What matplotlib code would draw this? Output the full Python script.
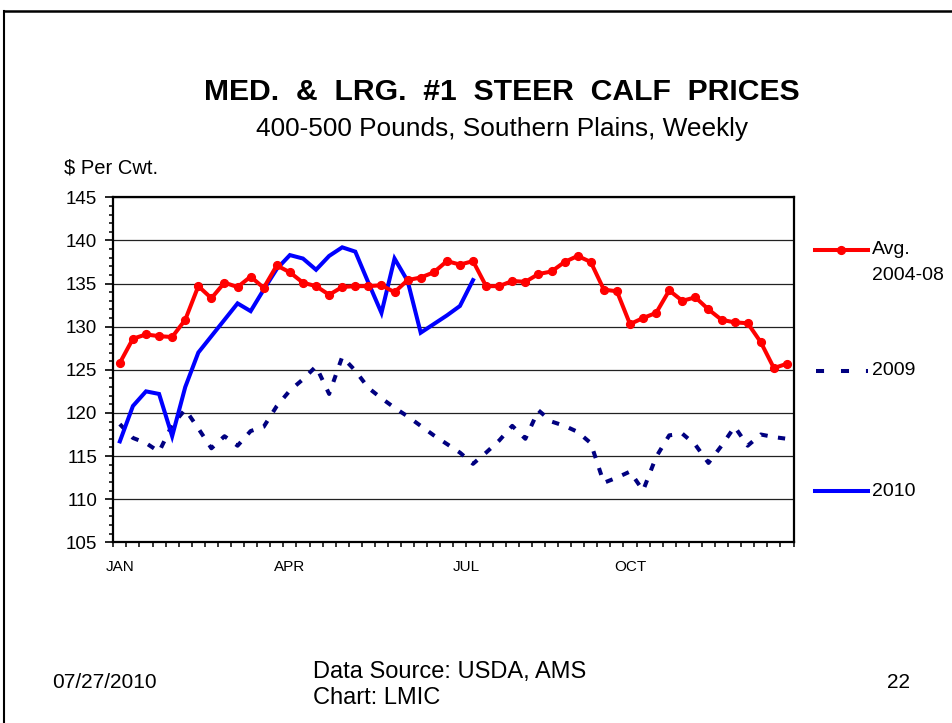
import numpy as np
import matplotlib
matplotlib.use("Agg")
import matplotlib.pyplot as plt
from matplotlib.lines import Line2D
from matplotlib.ticker import MultipleLocator

plt.rcParams["font.family"] = ["Liberation Sans", "DejaVu Sans"]

# weekly prices, $ per cwt
avg_0408 = [125.8, 128.6, 129.1, 128.9, 128.8, 130.8, 134.7, 133.3, 135.1, 134.6,
            135.8, 134.5, 137.1, 136.3, 135.1, 134.7, 133.7, 134.6, 134.7, 134.7,
            134.8, 134.0, 135.4, 135.7, 136.3, 137.6, 137.2, 137.6, 134.7, 134.7,
            135.3, 135.2, 136.1, 136.4, 137.5, 138.2, 137.5, 134.3, 134.1, 130.3,
            131.0, 131.6, 134.2, 133.0, 133.4, 132.0, 130.8, 130.5, 130.4, 128.2,
            125.2, 125.7]
y2009 = [118.7, 117.1, 116.5, 115.5, 118.6, 120.4, 118.2, 115.9, 117.3, 116.2,
         117.9, 118.4, 120.8, 122.6, 123.9, 125.4, 122.2, 126.5, 124.9, 122.9,
         121.7, 120.6, 119.6, 118.5, 117.4, 116.4, 115.4, 114.1, 115.4, 116.8,
         118.5, 117.0, 120.3, 119.0, 118.5, 117.8, 116.5, 111.9, 112.5, 113.2,
         111.0, 114.9, 117.4, 117.6, 116.3, 114.2, 116.2, 118.4, 116.2, 117.5,
         117.2, 117.0]
y2010 = [116.7, 120.8, 122.5, 122.2, 117.3, 123.0, 127.0, 128.9, 130.8, 132.7,
         131.8, 134.3, 136.7, 138.3, 137.9, 136.6, 138.2, 139.2, 138.7, 135.1,
         131.6, 137.9, 135.3, 129.3, 130.3, 131.3, 132.4, 135.4]

month_labels = ["JAN", "APR", "JUL", "OCT"]
month_pos = [0.5, 13.5, 26.95, 39.5]

W, H = 953, 723
fig = plt.figure(figsize=(W / 100, H / 100), dpi=100)
ax = fig.add_axes([113.3 / W, 1 - 542.3 / H, 680.2 / W, 345.0 / H])

x_avg = np.arange(len(avg_0408)) + 0.5
x09 = np.arange(len(y2009)) + 0.5
x10 = np.arange(len(y2010)) + 0.5

ax.plot(x09, y2009, color="#000080", lw=2.9, linestyle=(0, (1.8, 2.6)),
        dash_capstyle="butt", zorder=3)
ax.plot(x10, y2010, color="#0000FF", lw=2.9, zorder=4, solid_joinstyle="miter")
ax.plot(x_avg, avg_0408, color="#FF0000", lw=2.9, marker="o", markersize=5.6,
        zorder=5)

ax.set_xlim(0, 52)
ax.set_ylim(105, 145)
ax.yaxis.set_major_locator(MultipleLocator(5))
ax.yaxis.set_minor_locator(MultipleLocator(1))
ax.grid(axis="y", which="major", color="#222222", lw=0.9)
ax.set_axisbelow(True)

ax.set_xticks(np.arange(0, 53))
ax.set_xticklabels([])
ax.set_xticks(month_pos, month_labels, minor=True)
ax.tick_params(axis="x", which="major", direction="out", length=3.5, width=1.1)
ax.tick_params(axis="x", which="minor", length=0, labelsize=11, pad=13)
ax.tick_params(axis="y", which="major", direction="out", length=5.5, width=1.2,
               labelsize=13.5, pad=6)
ax.tick_params(axis="y", which="minor", direction="out", length=3, width=1.1)

for s in ax.spines.values():
    s.set_linewidth(1.6)
    s.set_color("black")

def fx(px):
    return px / W

def fy(py):
    return 1 - py / H

# titles
fig.text(fx(502), fy(92), "MED.  &  LRG.  #1  STEER  CALF  PRICES", ha="center",
         va="center", fontsize=21.7, fontweight="bold")
fig.text(fx(502), fy(129), "400-500 Pounds, Southern Plains, Weekly", ha="center",
         va="center", fontsize=18.9)
fig.text(fx(64), fy(168), "$ Per Cwt.", ha="left", va="center", fontsize=14.5)

# legend
fig.add_artist(Line2D([fx(815), fx(868)], [fy(250), fy(250)], color="#FF0000", lw=2.9))
fig.add_artist(Line2D([fx(841.5)], [fy(250)], color="#FF0000", marker="o",
                      markersize=5.6))
fig.text(fx(872), fy(250), "Avg.", ha="left", va="center", fontsize=14)
fig.text(fx(872), fy(276), "2004-08", ha="left", va="center", fontsize=14)
fig.add_artist(Line2D([fx(816), fx(868)], [fy(371), fy(371)], color="#000080", lw=2.9,
                      linestyle=(0, (2.0, 4.2)), dash_capstyle="butt"))
fig.text(fx(872), fy(371), "2009", ha="left", va="center", fontsize=14)
fig.add_artist(Line2D([fx(815), fx(868)], [fy(491), fy(491)], color="#0000FF", lw=2.9))
fig.text(fx(872), fy(491), "2010", ha="left", va="center", fontsize=14)

# footer
fig.text(fx(52), fy(683), "07/27/2010", ha="left", va="center", fontsize=15)
fig.text(fx(313), fy(672), "Data Source: USDA, AMS", ha="left", va="center", fontsize=17)
fig.text(fx(313), fy(698), "Chart: LMIC", ha="left", va="center", fontsize=17)
fig.text(fx(887), fy(683), "22", ha="left", va="center", fontsize=15)

# slide frame
fig.add_artist(Line2D([fx(4), fx(4)], [0, fy(10.5)], color="black", lw=1.5))
fig.add_artist(Line2D([fx(4), 1], [fy(10.5), fy(10.5)], color="black", lw=1.8))

fig.savefig("out.png", dpi=100)
